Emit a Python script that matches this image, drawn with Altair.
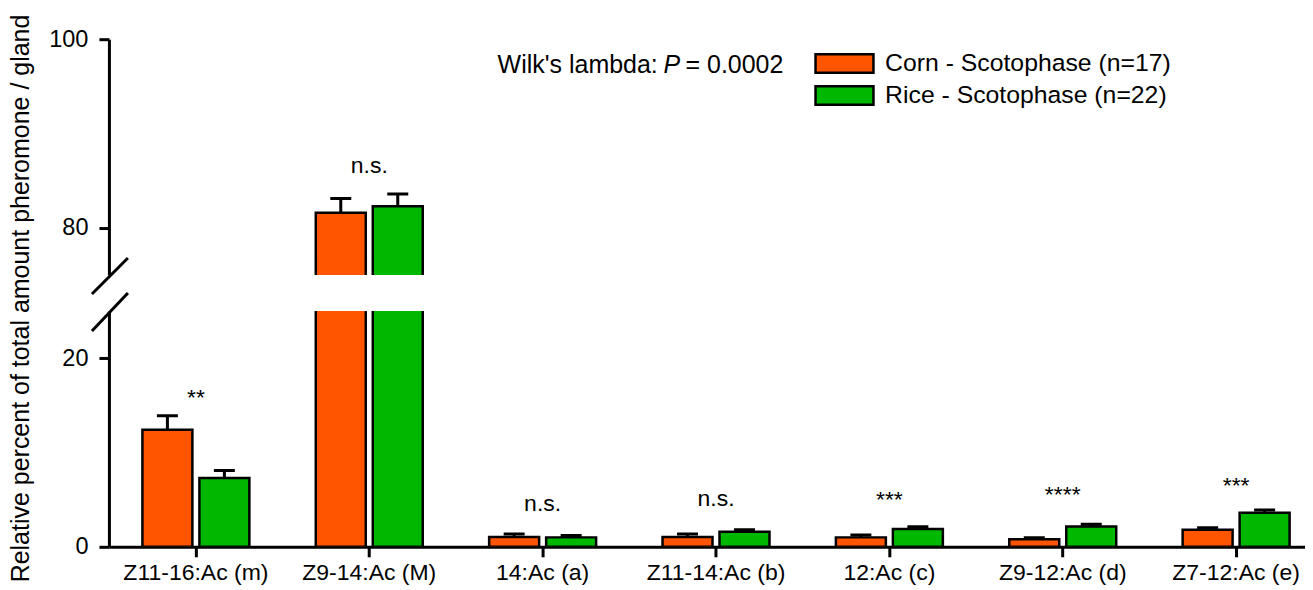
import altair as alt
import pandas as pd

categories = ["Z11-16:Ac (m)", "Z9-14:Ac (M)", "14:Ac (a)", "Z11-14:Ac (b)",
              "12:Ac (c)", "Z9-12:Ac (d)", "Z7-12:Ac (e)"]
groups = ["Corn - Scotophase (n=17)", "Rice - Scotophase (n=22)"]
colors = ["#FF5500", "#00B800"]
corn_mean = [12.4, 81.6, 1.05, 1.05, 1.0, 0.8, 1.8]
corn_err = [1.5, 1.5, 0.3, 0.3, 0.25, 0.15, 0.22]
rice_mean = [7.3, 82.3, 1.0, 1.6, 1.9, 2.15, 3.6]
rice_err = [0.8, 1.3, 0.2, 0.2, 0.22, 0.25, 0.3]
sig_labels = ["**", "n.s.", "n.s.", "n.s.", "***", "****", "***"]
sig_y = [15.0, 85.8, 3.75, 4.35, 4.25, 4.7, 5.75]
upper_ticks = [80, 100]
lower_ticks = [0, 20]
upper_domain = [75, 100]
lower_domain = [0, 25]

FONT = "Liberation Sans"

rows = []
for i, c in enumerate(categories):
    rows.append({"category": c, "group": groups[0], "mean": corn_mean[i],
                 "top": corn_mean[i] + corn_err[i], "base": 0})
    rows.append({"category": c, "group": groups[1], "mean": rice_mean[i],
                 "top": rice_mean[i] + rice_err[i], "base": 0})
df = pd.DataFrame(rows)
sig_df = pd.DataFrame({"category": categories, "label": sig_labels, "y": sig_y})
one = pd.DataFrame({"k": [0]})

xscale = alt.Scale(paddingInner=0.383, paddingOuter=0.141, align=0.685)
offscale = alt.Scale(paddingInner=0.123, paddingOuter=0)


def panel(domain, ticks, show_x, show_legend, title):
    yscale = alt.Scale(domain=domain, nice=False, zero=False)
    if show_x:
        xaxis = alt.Axis(title=None, labelFontSize=23, labelFont=FONT, labelColor="black",
                         domainColor="black", domainWidth=3, tickColor="black",
                         tickWidth=3, tickSize=10, labelPadding=5, labelAngle=0,
                         grid=False)
    else:
        xaxis = None
    ykw = dict(values=ticks, labelFontSize=23.5, labelFont=FONT, labelColor="black",
               domainColor="black", domainWidth=3, tickColor="black", tickWidth=3,
               tickSize=10, labelPadding=11, grid=False)
    if title:
        yaxis = alt.Axis(title=title, titleFontSize=25, titleFont=FONT,
                         titleFontWeight="normal", titleColor="black",
                         titleX=-75, titleY=-13, titleAngle=-90, titleAlign="center",
                         titleBaseline="bottom", **ykw)
    else:
        yaxis = alt.Axis(title=None, **ykw)
    x = alt.X("category:N", sort=categories, scale=xscale, axis=xaxis)
    xo = alt.XOffset("group:N", sort=groups, scale=offscale)
    if show_legend:
        legend = alt.Legend(title=None, orient="none", legendX=704, legendY=12,
                            symbolType="M-1,-1H5.27V1H-1Z", symbolSize=342,
                            symbolStrokeColor="black", symbolStrokeWidth=2.5,
                            symbolOpacity=1,
                            labelOffset=48, labelFontSize=24.8, labelFont=FONT,
                            labelColor="black", rowPadding=3, labelLimit=400)
    else:
        legend = None
    color = alt.Color("group:N", sort=groups,
                      scale=alt.Scale(domain=groups, range=colors), legend=legend)
    base = alt.Chart(df)
    yb = alt.Y("mean:Q", scale=yscale, axis=yaxis)
    bars = base.mark_bar(stroke="black", strokeWidth=2.5, opacity=1, clip=True).encode(
        x=x, xOffset=xo, y=yb, y2=alt.Y2("base:Q"), color=color,
    )
    err = base.mark_rule(color="black", strokeWidth=3, opacity=1, clip=True).encode(
        x=x, xOffset=xo, y=alt.Y("top:Q", scale=yscale, axis=yaxis), y2=alt.Y2("mean:Q"))
    cap = base.mark_tick(color="black", thickness=3, size=21, orient="horizontal",
                         opacity=1, clip=True).encode(
        x=x, xOffset=xo, y=alt.Y("top:Q", scale=yscale, axis=yaxis))
    sig = alt.Chart(sig_df).mark_text(font=FONT, fontSize=23, color="black",
                                      baseline="alphabetic", clip=True).encode(
        x=x, y=alt.Y("y:Q", scale=yscale, axis=yaxis), text="label:N")
    return [bars, err, cap, sig]


upper_layers = panel(upper_domain, upper_ticks, False, True, None)
lower_layers = panel(lower_domain, lower_ticks, True, False,
                     "Relative percent of total amount pheromone / gland")

# axis break marks
brk_style = dict(color="black", strokeWidth=3)
upper_break = alt.Chart(one).mark_rule(**brk_style).encode(
    x=alt.value(-17), x2=alt.value(19), y=alt.value(255), y2=alt.value(219))
lower_break = alt.Chart(one).mark_rule(**brk_style).encode(
    x=alt.value(-17), x2=alt.value(19), y=alt.value(20), y2=alt.value(-18))

# statistics note
note_kw = dict(font=FONT, fontSize=25, color="black", align="left", baseline="alphabetic")
note1 = alt.Chart(one).mark_text(**note_kw).encode(
    x=alt.value(389), y=alt.value(34), text=alt.value("Wilk's lambda:"))
note2 = alt.Chart(one).mark_text(fontStyle="italic", **note_kw).encode(
    x=alt.value(555), y=alt.value(34), text=alt.value("P"))
note3 = alt.Chart(one).mark_text(**note_kw).encode(
    x=alt.value(577), y=alt.value(34), text=alt.value("= 0.0002"))

noview = alt.ViewBackground(stroke="transparent", strokeWidth=0)
upper = alt.layer(*upper_layers, upper_break, note1, note2, note3).properties(
    width=1197, height=236, view=noview)
lower = alt.layer(*lower_layers, lower_break).properties(
    width=1197, height=236, view=noview)

chart = alt.vconcat(upper, lower, spacing=36, bounds="flush").resolve_scale(
    x="shared", y="independent", color="independent"
).resolve_axis(x="independent", y="independent").resolve_legend(
    color="independent"
).properties(
    padding={"left": 0, "top": 5, "right": 0, "bottom": 0}
).configure_view(stroke="transparent", strokeWidth=0).configure_axis(
    grid=False
).configure(background="white")

chart.save("out.html", embed_options={"renderer": "svg", "actions": False})
